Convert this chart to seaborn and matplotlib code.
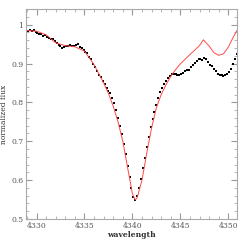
import numpy as np
import pandas as pd
import seaborn as sns
import matplotlib.pyplot as plt
from matplotlib.ticker import MultipleLocator

# observed spectrum (black dots)
obs_wave = [
    4328.9, 4329.1, 4329.3, 4329.5, 4329.7, 4329.9, 4330.1, 4330.3, 4330.5, 4330.7,
    4330.9, 4331.1, 4331.3, 4331.5, 4331.7, 4331.9, 4332.1, 4332.3, 4332.5, 4332.7,
    4332.9, 4333.1, 4333.3, 4333.5, 4333.7, 4333.9, 4334.1, 4334.3, 4334.5, 4334.7,
    4334.9, 4335.1, 4335.3, 4335.5, 4335.7, 4335.9, 4336.1, 4336.3, 4336.5, 4336.7,
    4336.9, 4337.1, 4337.3, 4337.5, 4337.7, 4337.9, 4338.1, 4338.3, 4338.5, 4338.7,
    4338.9, 4339.1, 4339.3, 4339.5, 4339.7, 4339.9, 4340.1, 4340.3, 4340.5, 4340.7,
    4340.9, 4341.1, 4341.3, 4341.5, 4341.7, 4341.9, 4342.1, 4342.3, 4342.5, 4342.7,
    4342.9, 4343.1, 4343.3, 4343.5, 4343.7, 4343.9, 4344.1, 4344.3, 4344.5, 4344.7,
    4344.9, 4345.1, 4345.3, 4345.5, 4345.7, 4345.9, 4346.1, 4346.3, 4346.5, 4346.7,
    4346.9, 4347.1, 4347.3, 4347.5, 4347.7, 4347.9, 4348.1, 4348.3, 4348.5, 4348.7,
    4348.9, 4349.1, 4349.3, 4349.5, 4349.7, 4349.9, 4350.1, 4350.3, 4350.5, 4350.7,
    4350.9,
]
obs_flux = [
    0.985, 0.983, 0.985, 0.984, 0.986, 0.981, 0.978, 0.975, 0.977, 0.971,
    0.973, 0.968, 0.966, 0.962, 0.963, 0.957, 0.953, 0.947, 0.944, 0.940,
    0.942, 0.946, 0.944, 0.947, 0.945, 0.946, 0.948, 0.949, 0.943, 0.941,
    0.935, 0.930, 0.926, 0.918, 0.912, 0.900, 0.891, 0.880, 0.870, 0.864,
    0.855, 0.848, 0.838, 0.830, 0.824, 0.812, 0.799, 0.780, 0.761, 0.740,
    0.718, 0.694, 0.667, 0.637, 0.607, 0.579, 0.557, 0.548, 0.558, 0.580,
    0.603, 0.630, 0.657, 0.686, 0.712, 0.736, 0.758, 0.776, 0.794, 0.810,
    0.826, 0.836, 0.846, 0.854, 0.862, 0.867, 0.872, 0.874, 0.873, 0.871,
    0.870, 0.872, 0.876, 0.881, 0.884, 0.884, 0.890, 0.897, 0.902, 0.906,
    0.911, 0.912, 0.910, 0.913, 0.911, 0.904, 0.897, 0.893, 0.886, 0.880,
    0.873, 0.870, 0.871, 0.869, 0.870, 0.874, 0.879, 0.886, 0.898, 0.912,
    0.925,
]

# model spectrum (red line)
mod_wave = [
    4328.9, 4330.0, 4331.0, 4332.0, 4333.0, 4334.0, 4335.0, 4336.0, 4337.0, 4337.5,
    4338.0, 4338.5, 4339.0, 4339.5, 4340.0, 4340.3, 4340.5, 4341.0, 4341.5, 4342.0,
    4342.5, 4343.0, 4343.5, 4344.0, 4344.5, 4345.0, 4346.0, 4347.0, 4347.4, 4348.0,
    4348.5, 4349.0, 4349.5, 4350.0, 4350.5, 4350.9,
]
mod_flux = [
    0.985, 0.983, 0.974, 0.953, 0.946, 0.943, 0.932, 0.897, 0.850, 0.823,
    0.790, 0.750, 0.700, 0.632, 0.565, 0.549, 0.555, 0.600, 0.670, 0.734,
    0.786, 0.820, 0.845, 0.867, 0.884, 0.899, 0.923, 0.946, 0.961, 0.945,
    0.928, 0.921, 0.925, 0.942, 0.967, 0.985,
]

obs = pd.DataFrame({"wavelength": obs_wave, "flux": obs_flux})
mod = pd.DataFrame({"wavelength": mod_wave, "flux": mod_flux})

sns.set_style("ticks")
plt.rcParams["font.family"] = ["DejaVu Serif"]

fig = plt.figure(figsize=(2.45, 2.45), dpi=100)
ax = fig.add_axes([0.106, 0.106, 0.861, 0.857])

sns.lineplot(data=mod, x="wavelength", y="flux", color="#ff4a4a", lw=0.7, ax=ax)
sns.scatterplot(data=obs, x="wavelength", y="flux", color="black", s=2.5,
                marker="s", linewidth=0, ax=ax)

ax.set_xlim(4328.9, 4350.9)
ax.set_ylim(0.5, 1.04)
ax.xaxis.set_major_locator(MultipleLocator(5))
ax.xaxis.set_minor_locator(MultipleLocator(1))
ax.yaxis.set_major_locator(MultipleLocator(0.1))
ax.yaxis.set_minor_locator(MultipleLocator(0.02))
ax.set_yticks([0.5, 0.6, 0.7, 0.8, 0.9, 1.0])
ax.set_yticklabels(["0.5", "0.6", "0.7", "0.8", "0.9", "1"])

ax.tick_params(which="both", direction="in", top=True, right=True,
               colors="#999999", labelcolor="#555555", labelsize=5.5, pad=2)
ax.tick_params(which="major", length=4, width=0.8)
ax.tick_params(which="minor", length=2, width=0.5)
for s in ax.spines.values():
    s.set_color("#aaaaaa")
    s.set_linewidth(0.8)

ax.set_xlabel("wavelength", fontsize=5.5, color="#333333", fontweight="bold", labelpad=1)
ax.set_ylabel("normalized flux", fontsize=5.5, color="#333333", labelpad=2)

fig.savefig("out.png", dpi=100)
